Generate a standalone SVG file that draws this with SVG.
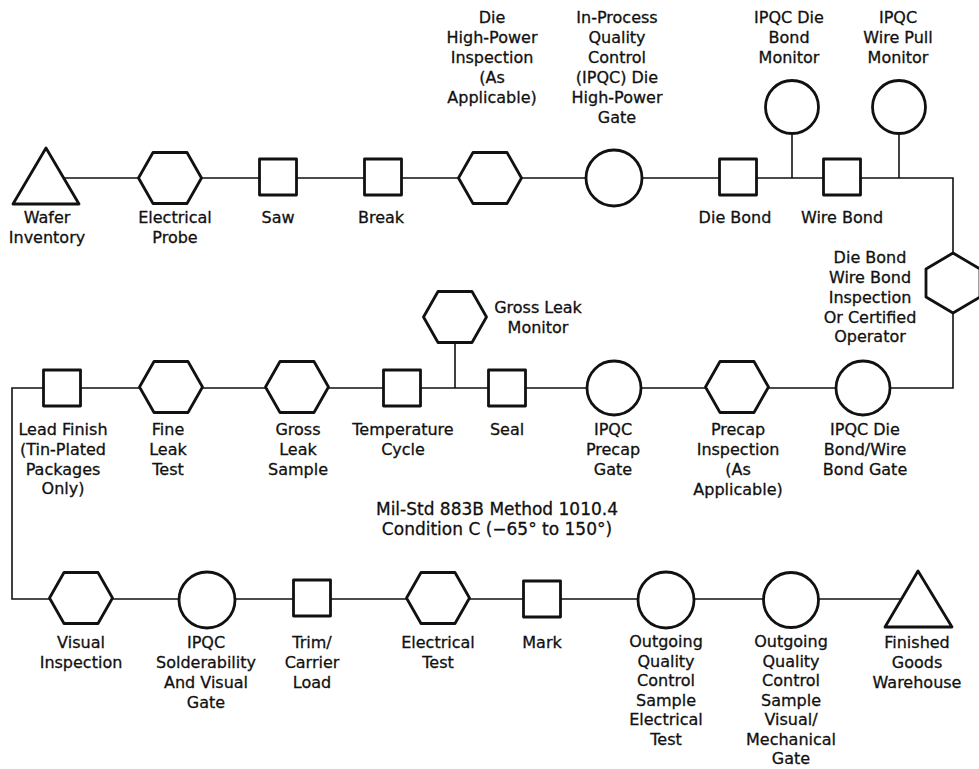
<svg xmlns="http://www.w3.org/2000/svg" width="979" height="769" viewBox="0 0 979 769">
<style>
.c{fill:none;stroke:#111;stroke-width:1.6}
.s{fill:#fff;stroke:#111;stroke-width:2.8;stroke-linejoin:round}
text{font-family:"DejaVu Sans","Liberation Sans",sans-serif;font-size:16px;fill:#111;stroke:#111;stroke-width:0.3;text-anchor:middle}
.big{font-size:17px}
</style>
<defs>
<polygon id="hex" points="-31.5,0 -17,-25.5 17,-25.5 31.5,0 17,25.5 -17,25.5"/>
<rect id="sq" x="-18.5" y="-18" width="37" height="36"/>
</defs>
<rect width="979" height="769" fill="#fff" stroke="none"/>
<g id="connectors">
<polyline class="c" points="46,178 953,178 953,388 12,388 12,599 918,599"/>
<line class="c" x1="792" y1="133" x2="792" y2="178"/>
<line class="c" x1="899" y1="134" x2="899" y2="178"/>
<line class="c" x1="455" y1="343" x2="455" y2="388"/>
</g>
<g id="wafer-inventory"><polygon class="s" points="46,148 13,204 79,204"/><text x="47" y="223">Wafer</text><text x="47" y="243">Inventory</text></g>
<g id="electrical-probe"><use href="#hex" class="s" x="170" y="178"/><text x="175" y="223">Electrical</text><text x="175" y="243">Probe</text></g>
<g id="saw"><use href="#sq" class="s" x="278" y="177"/><text x="278" y="223">Saw</text></g>
<g id="break"><use href="#sq" class="s" x="383" y="177"/><text x="381" y="223">Break</text></g>
<g id="die-high-power-inspection"><use href="#hex" class="s" x="490" y="178"/><text x="492" y="23">Die</text><text x="492" y="43">High-Power</text><text x="492" y="63">Inspection</text><text x="492" y="83">(As</text><text x="492" y="103">Applicable)</text></g>
<g id="ipqc-die-high-power-gate"><circle class="s" cx="614" cy="178" r="28"/><text x="617" y="23">In-Process</text><text x="617" y="43">Quality</text><text x="617" y="63">Control</text><text x="617" y="83">(IPQC) Die</text><text x="617" y="103">High-Power</text><text x="617" y="123">Gate</text></g>
<g id="die-bond"><use href="#sq" class="s" x="738" y="177"/><text x="735" y="223">Die Bond</text></g>
<g id="ipqc-die-bond-monitor"><circle class="s" cx="792" cy="107" r="26.5"/><text x="789" y="23">IPQC Die</text><text x="789" y="43">Bond</text><text x="789" y="63">Monitor</text></g>
<g id="wire-bond"><use href="#sq" class="s" x="842" y="177"/><text x="842" y="223">Wire Bond</text></g>
<g id="ipqc-wire-pull-monitor"><circle class="s" cx="899" cy="107" r="26.5"/><text x="898" y="23">IPQC</text><text x="898" y="43">Wire Pull</text><text x="898" y="63">Monitor</text></g>
<g id="die-bond-wire-bond-inspection"><polygon class="s" points="953,253 980,269 980,297 953,313 926,297 926,269"/><text x="870" y="263">Die Bond</text><text x="870" y="283">Wire Bond</text><text x="870" y="303">Inspection</text><text x="870" y="323">Or Certified</text><text x="870" y="342">Operator</text></g>
<g id="ipqc-die-bond-wire-bond-gate"><circle class="s" cx="863" cy="388" r="27"/><text x="865" y="435">IPQC Die</text><text x="865" y="455">Bond/Wire</text><text x="865" y="475">Bond Gate</text></g>
<g id="precap-inspection"><use href="#hex" class="s" x="737" y="387"/><text x="738" y="435">Precap</text><text x="738" y="455">Inspection</text><text x="738" y="475">(As</text><text x="738" y="495">Applicable)</text></g>
<g id="ipqc-precap-gate"><circle class="s" cx="614" cy="388" r="27"/><text x="613" y="435">IPQC</text><text x="613" y="455">Precap</text><text x="613" y="475">Gate</text></g>
<g id="seal"><use href="#sq" class="s" x="507" y="388"/><text x="507" y="435">Seal</text></g>
<g id="gross-leak-monitor"><use href="#hex" class="s" x="455" y="317"/><text x="538" y="313">Gross Leak</text><text x="538" y="333">Monitor</text></g>
<g id="temperature-cycle"><use href="#sq" class="s" x="402" y="388"/><text x="403" y="435">Temperature</text><text x="403" y="455">Cycle</text></g>
<g id="gross-leak-sample"><use href="#hex" class="s" x="297" y="387"/><text x="298" y="435">Gross</text><text x="298" y="455">Leak</text><text x="298" y="475">Sample</text></g>
<g id="fine-leak-test"><use href="#hex" class="s" x="171" y="387"/><text x="168" y="435">Fine</text><text x="168" y="455">Leak</text><text x="168" y="475">Test</text></g>
<g id="lead-finish"><use href="#sq" class="s" x="62" y="388"/><text x="63" y="435">Lead Finish</text><text x="63" y="455">(Tin-Plated</text><text x="63" y="475">Packages</text><text x="63" y="494">Only)</text></g>
<g id="note"><text class="big" x="497" y="515">Mil-Std 883B Method 1010.4</text><text class="big" x="497" y="535">Condition C (−65° to 150°)</text></g>
<g id="visual-inspection"><use href="#hex" class="s" x="81" y="598"/><text x="81" y="648">Visual</text><text x="81" y="668">Inspection</text></g>
<g id="ipqc-solderability"><circle class="s" cx="207" cy="600" r="28"/><text x="206" y="648">IPQC</text><text x="206" y="668">Solderability</text><text x="206" y="688">And Visual</text><text x="206" y="708">Gate</text></g>
<g id="trim-carrier-load"><use href="#sq" class="s" x="312" y="598"/><text x="312" y="648">Trim/</text><text x="312" y="668">Carrier</text><text x="312" y="688">Load</text></g>
<g id="electrical-test"><use href="#hex" class="s" x="438" y="598"/><text x="438" y="648">Electrical</text><text x="438" y="668">Test</text></g>
<g id="mark"><use href="#sq" class="s" x="542" y="599"/><text x="542" y="648">Mark</text></g>
<g id="oqc-electrical"><circle class="s" cx="666" cy="600" r="28"/><text x="666" y="647">Outgoing</text><text x="666" y="667">Quality</text><text x="666" y="686">Control</text><text x="666" y="706">Sample</text><text x="666" y="725">Electrical</text><text x="666" y="745">Test</text></g>
<g id="oqc-visual-mechanical"><circle class="s" cx="791" cy="600" r="27.5"/><text x="791" y="647">Outgoing</text><text x="791" y="667">Quality</text><text x="791" y="686">Control</text><text x="791" y="706">Sample</text><text x="791" y="725">Visual/</text><text x="791" y="745">Mechanical</text><text x="791" y="764">Gate</text></g>
<g id="finished-goods-warehouse"><polygon class="s" points="918,571 885,627 952,627"/><text x="917" y="648">Finished</text><text x="917" y="668">Goods</text><text x="917" y="688">Warehouse</text></g>
</svg>
